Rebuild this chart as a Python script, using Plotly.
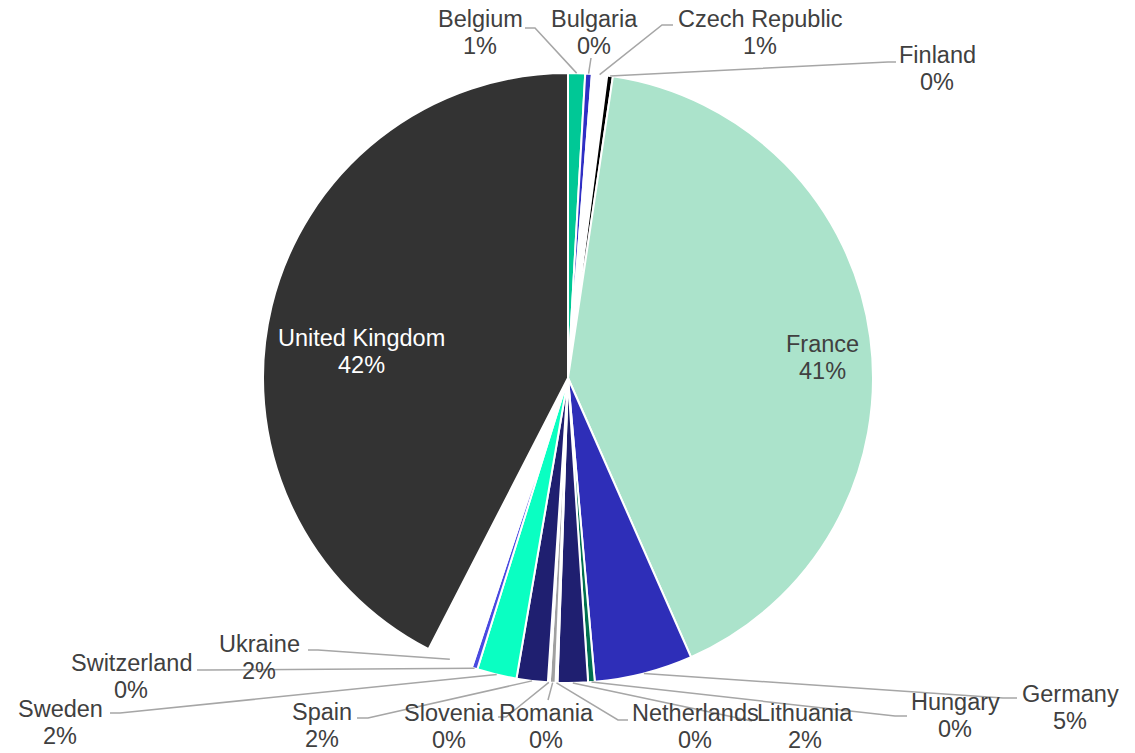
import math
import plotly.graph_objects as go

# ---- data (shares, in %) ----
countries = ["Belgium", "Bulgaria", "Czech Republic", "Finland", "France", "Germany",
             "Hungary", "Lithuania", "Netherlands", "Romania", "Slovenia", "Spain",
             "Sweden", "Switzerland", "Ukraine", "United Kingdom"]
shares = [0.9, 0.35, 0.8, 0.3, 41.0, 5.2, 0.35, 1.6, 0.1, 0.3, 0.1, 1.65, 2.1, 0.3, 2.45, 42.4]
colors = ["#00C896", "#2F2FC4", "#FFFFFF", "#000000", "#ABE3CB", "#2E2EB8",
          "#00704F", "#1F1F70", "#FFFFFF", "#A0A0A0", "#FFFFFF", "#1F1F70",
          "#0AFFC2", "#4A4AE0", "#FFFFFF", "#333333"]

# ---- layout constants (pixels of the 1135x753 window) ----
W, H = 1135, 753
CX, CY, R = 568, 378, 305
FONT = "Liberation Sans, Arial, sans-serif"
FS = 23.5
LINE_GAP = 27
TEXT_COLOR = "#404040"

label_pos = {
    "Belgium": (480, 19), "Bulgaria": (594, 19), "Czech Republic": (760, 19),
    "Finland": (937, 55), "France": (822, 344), "Germany": (1070, 694),
    "Hungary": (955, 702), "Lithuania": (805, 713), "Netherlands": (695, 713),
    "Romania": (546, 713), "Slovenia": (449, 713), "Spain": (322, 712),
    "Sweden": (60, 709), "Switzerland": (131, 663), "Ukraine": (259, 644),
    "United Kingdom": (361, 338),
}
inside_labels = {"France": TEXT_COLOR, "United Kingdom": "#FFFFFF"}

leaders = {
    "Belgium": [(535, 28), (525, 28)],
    "Bulgaria": [(591, 58)],
    "Czech Republic": [(662, 25), (673, 25)],
    "Finland": [(888, 62), (896, 62)],
    "Germany": [(1003, 698), (1017, 698)],
    "Hungary": [(895, 716), (907, 716)],
    "Lithuania": [(752, 721)],
    "Netherlands": [(618, 720), (628, 720)],
    "Romania": [(548, 700)],
    "Slovenia": [(506, 717), (498, 717)],
    "Spain": [(368, 718), (357, 718)],
    "Sweden": [(120, 713), (110, 713)],
    "Switzerland": [(205, 670), (197, 670)],
    "Ukraine": [(318, 650), (308, 650)],
}


def px(x):
    return x / W


def py(y):
    return 1 - y / H


fig = go.Figure(go.Pie(
    labels=countries, values=shares, sort=False, direction="clockwise", rotation=0,
    marker=dict(colors=colors, line=dict(color="#FFFFFF", width=2)),
    textinfo="none", hoverinfo="label+percent", showlegend=False,
    domain=dict(x=[px(CX - R), px(CX + R)], y=[py(CY + R), py(CY - R)]),
))

total = sum(shares)
shapes = []
annotations = []
cum = 0.0
for name, v in zip(countries, shares):
    frac = (cum + v / 2) / total
    cum += v
    theta = 2 * math.pi * frac
    sx = CX + R * math.sin(theta)
    sy = CY - R * math.cos(theta)
    pct = f"{round(v / total * 100)}%"
    lx, ly = label_pos[name]
    color = inside_labels.get(name, TEXT_COLOR)
    for txt, yy in ((name, ly), (pct, ly + LINE_GAP)):
        annotations.append(dict(
            text=txt, x=px(lx), y=py(yy), xref="paper", yref="paper",
            xanchor="center", yanchor="middle", showarrow=False,
            font=dict(family=FONT, size=FS, color=color)))
    if name in leaders:
        pts = [(sx, sy)] + leaders[name]
        path = "M " + " L ".join(f"{px(a):.5f},{py(b):.5f}" for a, b in pts)
        shapes.append(dict(type="path", path=path, xref="paper", yref="paper",
                           line=dict(color="#A6A6A6", width=1.5)))

fig.update_layout(
    width=W, height=H, margin=dict(l=0, r=0, t=0, b=0),
    paper_bgcolor="#FFFFFF", plot_bgcolor="#FFFFFF",
    shapes=shapes, annotations=annotations,
)

# place the figure at the window's top-left corner (no default page margin)
fig.write_html("out.html",
               config={"displayModeBar": False},
               post_script="document.body.style.margin='0';"
                           "document.body.style.overflow='hidden';")
